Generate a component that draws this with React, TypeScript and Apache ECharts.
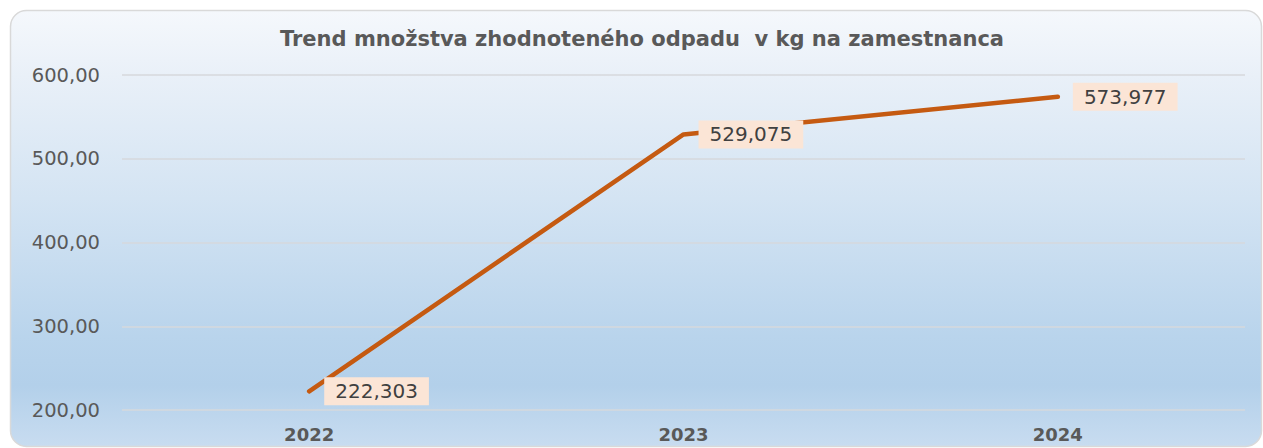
import React, { useEffect, useRef } from "react";
import * as echarts from "echarts";

const titleText = "Trend množstva zhodnoteného odpadu  v kg na zamestnanca";
const categories = ["2022", "2023", "2024"];
const values = [222.303, 529.075, 573.977];
const yMin = 200;
const yMax = 600;
const yStep = 100;

export default function App() {
  const ref = useRef<HTMLDivElement>(null);
  useEffect(() => {
    if (!ref.current) return;
    const chart = echarts.init(ref.current, null, { renderer: "svg" });
    const font = "DejaVu Sans";
    chart.setOption({
      animation: false,
      graphic: [
        {
          type: "rect",
          z: -10,
          silent: true,
          shape: { x: 10.5, y: 10.5, width: 1251, height: 436, r: 16 },
          style: {
            fill: new echarts.graphic.LinearGradient(0, 0, 0, 1, [
              { offset: 0, color: "#f5f8fc" },
              { offset: 0.15, color: "#e9f0f8" },
              { offset: 0.43, color: "#d4e4f3" },
              { offset: 0.75, color: "#b9d4ec" },
              { offset: 0.86, color: "#b3d0ea" },
              { offset: 1, color: "#c8dcf0" },
            ]),
            stroke: "#d9d9d9",
            lineWidth: 1.5,
          },
        },
        {
          type: "text",
          x: 642,
          y: 39,
          style: {
            text: titleText,
            fontFamily: font,
            fontWeight: "bold",
            fontSize: 21,
            fill: "#595959",
            textAlign: "center",
            textVerticalAlign: "middle",
          },
        },
      ],
      grid: { left: 122, right: 18, top: 75, bottom: 38, containLabel: false },
      xAxis: {
        type: "category",
        data: categories,
        boundaryGap: true,
        axisLine: { show: false },
        axisTick: { show: false },
        axisLabel: {
          margin: 15,
          fontFamily: font,
          fontWeight: "bold",
          fontSize: 18,
          color: "#595959",
        },
      },
      yAxis: {
        type: "value",
        min: yMin,
        max: yMax,
        interval: yStep,
        axisLine: { show: false },
        axisTick: { show: false },
        splitLine: { lineStyle: { color: "#d6d9dc", width: 1.5 } },
        axisLabel: {
          margin: 22,
          fontFamily: font,
          fontSize: 19.5,
          color: "#595959",
          formatter: (v: number) => v.toFixed(2).replace(".", ","),
        },
      },
      series: [
        {
          type: "line",
          data: values,
          symbol: "circle",
          symbolSize: 0.1,
          itemStyle: { color: "#c55a11" },
          lineStyle: { color: "#c55a11", width: 4.5, cap: "round", join: "round" },
          label: {
            show: true,
            position: "right",
            distance: 15,
            backgroundColor: "#fbe5d6",
            padding: [4, 11],
            color: "#404040",
            fontFamily: font,
            fontSize: 20,
            formatter: (p: any) => Number(p.value).toFixed(3).replace(".", ","),
          },
        },
      ],
    });
    return () => chart.dispose();
  }, []);
  return (
    <div
      ref={ref}
      style={{ position: "absolute", left: 0, top: 0, width: 1263, height: 448, background: "#ffffff" }}
    />
  );
}
